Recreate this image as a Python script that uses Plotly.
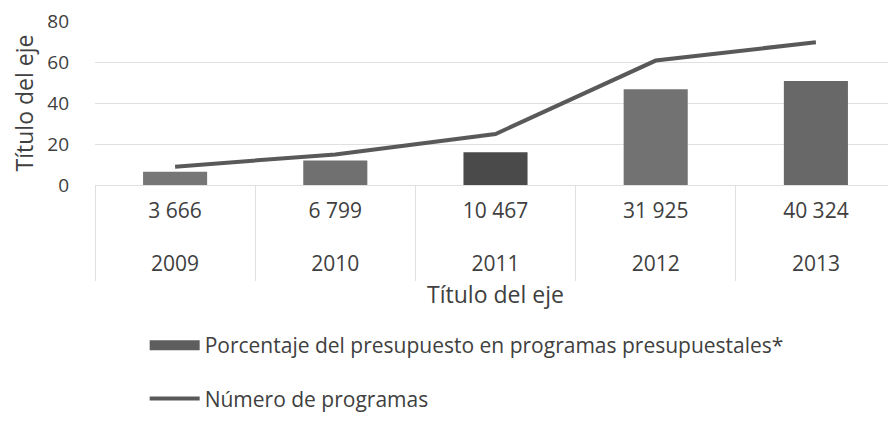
import plotly.graph_objects as go

years = ["2009", "2010", "2011", "2012", "2013"]
amounts = ["3 666", "6 799", "10 467", "31 925", "40 324"]
porcentaje = [6.5, 12, 16, 47, 51]
programas = [9, 15, 25, 61, 70]
bar_colors = ["#767676", "#707070", "#4a4a4a", "#727272", "#686868"]

FONT = "Open Sans"
TXT = "#404040"
GRID = "#e0e0e0"
BAR_NAME = "Porcentaje del presupuesto en programas presupuestales*"

fig = go.Figure()
fig.add_trace(go.Bar(
    x=years, y=porcentaje, xaxis="x", yaxis="y",
    name=BAR_NAME, showlegend=False,
    marker=dict(color=bar_colors, line=dict(width=0)),
    width=0.4, legendgroup="a",
))
# legend key for the bars (wide rectangle like the original)
fig.add_trace(go.Scatter(
    x=[None], y=[None], mode="lines", xaxis="x", yaxis="y",
    name=BAR_NAME, line=dict(color="#5e5e5e", width=13), legendgroup="a",
    hoverinfo="skip",
))
fig.add_trace(go.Scatter(
    x=years, y=programas, mode="lines", xaxis="x2", yaxis="y",
    name="Número de programas",
    line=dict(color="#595959", width=4), legendgroup="b",
))

fig.update_layout(
    width=888, height=417,
    margin=dict(l=87, r=0, t=13, b=240),
    paper_bgcolor="white", plot_bgcolor="white",
    font=dict(family=FONT, size=21, color=TXT),
    showlegend=True,
    legend=dict(x=0.062, y=-0.854, xanchor="left", yanchor="top",
                orientation="v", tracegroupgap=23, itemwidth=50,
                font=dict(size=21, color=TXT)),
    xaxis=dict(type="category", categoryorder="array", categoryarray=years,
               range=[-0.5, 4.5], automargin=False,
               tickvals=years, ticktext=amounts,
               showgrid=False, showline=True, linecolor=GRID,
               ticks="outside", tickson="boundaries", ticklen=95,
               tickcolor=GRID, tickwidth=1, ticklabelstandoff=7,
               tickfont=dict(size=21, color=TXT)),
    xaxis2=dict(type="category", categoryorder="array", categoryarray=years,
                range=[-0.5, 4.5], automargin=False,
                overlaying="x", side="bottom", anchor="y", matches="x",
                tickvals=years, ticktext=years,
                showgrid=False, showline=False, ticks="",
                ticklabelstandoff=64,
                tickfont=dict(size=21, color=TXT),
                title=dict(text="Título del eje", font=dict(size=23, color=TXT), standoff=10)),
    yaxis=dict(range=[0, 80.4], tickvals=[0, 20, 40, 60, 80], showgrid=True, gridcolor=GRID,
               zeroline=False, showline=False, ticks="", automargin=False,
               ticklabelstandoff=25, ticklabeloverflow="allow",
               tickfont=dict(size=19, color=TXT),
               title=dict(text="Título del eje", font=dict(size=23, color=TXT), standoff=13)),
)

fig.write_html("out.html")
